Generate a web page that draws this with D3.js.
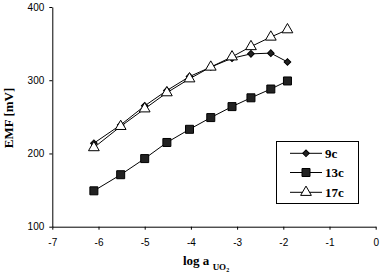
<!DOCTYPE html>
<html>
  <head>
    <meta charset="utf-8">
    <title>EMF vs log a</title>
    <script src="https://d3js.org/d3.v7.min.js"></script>
    <style>
      body { margin: 0; background: #fff; }
    </style>
  </head>
  <body>

  <script type="text/javascript">
  // data
  var logA  = [-6.1, -5.52, -5.0, -4.52, -4.03, -3.57, -3.11, -2.7, -2.27, -1.91];
  var emf9  = [214, 239, 265, 286, 305, 318, 330, 336, 337, 325];
  var emf13 = [149, 171, 193, 215, 233, 249, 264, 276, 288, 299];
  var emf17 = [208, 237, 261, 283, 302, 318, 332, 346, 359, 369];
  var xTicks = [-7, -6, -5, -4, -3, -2, -1, 0];
  var yTicks = [100, 200, 300, 400];
  var seriesNames = ['9c', '13c', '17c'];

  var svg = d3.select('body')
              .append('svg')
              .attr('width', 380)
              .attr('height', 278);

  var x = d3.scaleLinear().domain([-7, 0]).range([52.3, 375.7]);
  var y = d3.scaleLinear().domain([100, 400]).range([226.7, 7]);

  // axes
  var xAxis = svg.append('g')
     .attr('transform', 'translate(0,' + y(100) + ')')
     .call(d3.axisBottom(x).tickValues(xTicks).tickSize(3).tickSizeOuter(0).tickFormat(d3.format('d')));
  var yAxis = svg.append('g')
     .attr('transform', 'translate(' + x(-7) + ',0)')
     .call(d3.axisLeft(y).tickValues(yTicks).tickSize(3).tickSizeOuter(0));

  [xAxis, yAxis].forEach(function(a){
    a.select('.domain').attr('stroke', '#000').attr('stroke-width', 1);
    a.selectAll('.tick line').attr('stroke', '#000');
    a.selectAll('text')
     .attr('font-family', 'Liberation Sans, Arial, sans-serif')
     .attr('font-size', 10)
     .attr('fill', '#000');
  });
  xAxis.selectAll('text').attr('dy', '1.3em').text(function(d){ return d; });
  yAxis.selectAll('text').attr('x', -8);

  // series
  var line = d3.line()
               .x(function(d){ return x(d[0]); })
               .y(function(d){ return y(d[1]); });

  function pts(vals){ return logA.map(function(v, i){ return [v, vals[i]]; }); }

  var sym = {
    '9c':  d3.symbol().type(d3.symbolSquare).size(22),
    '13c': d3.symbol().type(d3.symbolSquare).size(64),
    '17c': d3.symbol().type(d3.symbolTriangle).size(50)
  };
  var rot = { '9c': ' rotate(45)', '13c': '', '17c': '' };
  var fill = { '9c': '#222', '13c': '#222', '17c': '#fff' };

  var allSeries = [
    { name: '13c', data: pts(emf13) },
    { name: '9c',  data: pts(emf9) },
    { name: '17c', data: pts(emf17) }
  ];

  allSeries.forEach(function(s){
    var g = svg.append('g');
    g.append('path')
     .attr('d', line(s.data))
     .attr('fill', 'none')
     .attr('stroke', '#000')
     .attr('stroke-width', 1);
    g.selectAll('path.m')
     .data(s.data)
     .enter()
     .append('path')
     .attr('class', 'm')
     .attr('transform', function(d){ return 'translate(' + x(d[0]) + ',' + y(d[1]) + ')' + rot[s.name]; })
     .attr('d', sym[s.name])
     .attr('fill', fill[s.name])
     .attr('stroke', '#000')
     .attr('stroke-width', 1);
  });

  // legend
  var lg = svg.append('g');
  lg.append('rect')
    .attr('x', 276.5).attr('y', 141.5)
    .attr('width', 82).attr('height', 62)
    .attr('fill', '#fff').attr('stroke', '#000').attr('stroke-width', 1);
  var rows = [153.3, 172.5, 192.3];
  seriesNames.forEach(function(n, i){
    lg.append('line')
      .attr('x1', 290).attr('x2', 322)
      .attr('y1', rows[i]).attr('y2', rows[i])
      .attr('stroke', '#000');
    lg.append('path')
      .attr('transform', 'translate(306,' + rows[i] + ')' + rot[n])
      .attr('d', sym[n])
      .attr('fill', fill[n])
      .attr('stroke', '#000');
    lg.append('text')
      .attr('x', 325).attr('y', rows[i] + 4.5)
      .attr('font-family', 'Liberation Serif, Times New Roman, serif')
      .attr('font-weight', 'bold')
      .attr('font-size', 13)
      .text(n);
  });

  // axis titles
  var xt = svg.append('text')
    .attr('x', 183).attr('y', 265)
    .attr('font-family', 'Liberation Serif, Times New Roman, serif')
    .attr('font-weight', 'bold')
    .attr('font-size', 13);
  xt.append('tspan').text('log a ');
  xt.append('tspan').attr('font-size', 9).attr('dy', 5).text('UO');
  xt.append('tspan').attr('font-size', 6).attr('dy', 2).text('2');

  svg.append('text')
    .attr('transform', 'translate(13,118) rotate(-90)')
    .attr('text-anchor', 'middle')
    .attr('font-family', 'Liberation Serif, Times New Roman, serif')
    .attr('font-weight', 'bold')
    .attr('font-size', 13)
    .text('EMF [mV]');
  </script>
  </body>
</html>
